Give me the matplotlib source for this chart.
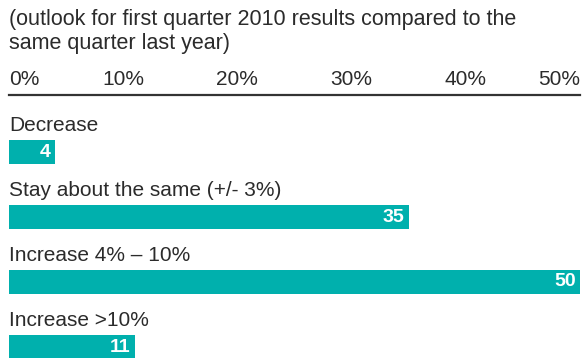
import matplotlib
matplotlib.use("Agg")
import matplotlib.pyplot as plt
from matplotlib.transforms import offset_copy

# === DATA ===
categories = [
    "Decrease",
    "Stay about the same (+/- 3%)",
    "Increase 4% \u2013 10%",
    "Increase >10%",
]
values = [4, 35, 50, 11]
tick_values = [0, 10, 20, 30, 40, 50]
tick_labels = ["0%", "10%", "20%", "30%", "40%", "50%"]
subtitle_lines = [
    "(outlook for first quarter 2010 results compared to the",
    "same quarter last year)",
]

# === STYLE ===
teal = "#00b0ad"
text_col = "#2b2b2b"
plt.rcParams["font.family"] = ["Liberation Sans", "DejaVu Sans"]
fs = 15

W, H = 582, 358
fig = plt.figure(figsize=(W / 100, H / 100), dpi=100)
fig.patch.set_facecolor("white")

# axes area: from the rule line (y=95 px) down to the bottom edge
ax = fig.add_axes([9 / W, 0, (580 - 9) / W, 1 - 95 / H])

pos = list(range(len(categories)))
ax.barh(pos, values, height=24 / 65, color=teal, edgecolor="none")

# y in "bar slots": slot 0 centred at 152 px, 65 px per slot
ax.set_ylim((358 - 152) / 65, (95 - 152) / 65)
ax.set_xlim(0, 50)

# category labels above each bar
for p, name in zip(pos, categories):
    ax.text(0, p - 21 / 65, name, ha="left", va="baseline",
            fontsize=fs, color=text_col)

# value labels inside the bar end
lbl_tr = offset_copy(ax.transData, fig=fig, x=-4, y=0, units="dots")
for p, v in zip(pos, values):
    ax.text(v, p, str(v), ha="right", va="center", transform=lbl_tr,
            fontsize=14, fontweight="bold", color="white")

# axis on top, ticks as plain labels
ax.xaxis.tick_top()
ax.set_xticks(tick_values)
ax.set_xticklabels(tick_labels, fontsize=fs, color=text_col)
ax.tick_params(axis="x", length=0, pad=4)
ax.tick_params(axis="y", left=False, labelleft=False)
xl = ax.get_xticklabels()
xl[0].set_horizontalalignment("left")
xl[-1].set_horizontalalignment("right")

for s in ["left", "right", "bottom"]:
    ax.spines[s].set_visible(False)
ax.spines["top"].set_color("#333333")
ax.spines["top"].set_linewidth(1.6)

for i, line in enumerate(subtitle_lines):
    fig.text(9 / W, 1 - (25 + 24 * i) / H, line, ha="left", va="baseline",
             fontsize=15.5, color=text_col)

fig.savefig("out.png", dpi=100, facecolor="white")
